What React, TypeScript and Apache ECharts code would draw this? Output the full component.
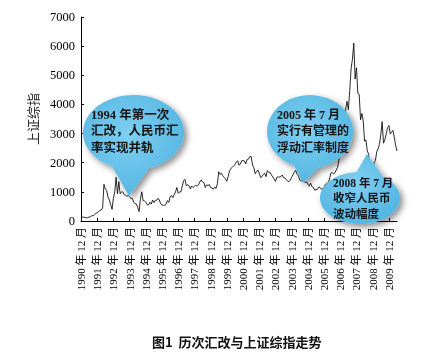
import React, { useEffect, useRef } from "react";
import * as echarts from "echarts";

// Shanghai Composite, approximate monthly values (Dec 1990 – Jun 2010)
const closes1990_1994 = [
  100,
  130, 133, 120, 113, 114, 137, 146, 180, 180, 218, 260, 292,
  313, 364, 380, 445, 1260, 1100, 1050, 820, 720, 560, 400, 780,
  1000, 1500, 930, 1350, 930, 1000, 1000, 900, 880, 850, 880, 833,
  770, 780, 640, 600, 580, 470, 320, 750, 1000, 700, 690, 647,
];
const closes1995_1999 = [
  560, 550, 640, 580, 720, 630, 710, 710, 780, 720, 590, 555,
  537, 537, 570, 700, 640, 830, 880, 800, 900, 1000, 1150, 950,
  1000, 1000, 1200, 1380, 1430, 1200, 1250, 1200, 1100, 1200, 1150, 1194,
  1220, 1200, 1240, 1340, 1410, 1340, 1320, 1150, 1240, 1220, 1250, 1146,
  1130, 1090, 1160, 1120, 1280, 1690, 1600, 1640, 1550, 1500, 1440, 1367,
];
const closes2000_2004 = [
  1530, 1720, 1800, 1840, 1890, 1930, 2020, 2070, 1910, 1960, 2070, 2073,
  2060, 1960, 2110, 2120, 2210, 2218, 1920, 1830, 1620, 1690, 1750, 1646,
  1490, 1520, 1600, 1640, 1520, 1730, 1670, 1670, 1580, 1510, 1440, 1357,
  1500, 1510, 1510, 1520, 1580, 1490, 1480, 1420, 1370, 1350, 1400, 1497,
  1590, 1680, 1740, 1600, 1560, 1400, 1390, 1340, 1400, 1320, 1340, 1266,
];
const closes2005_2010 = [
  1190, 1300, 1180, 1160, 1060, 1080, 1080, 1160, 1155, 1090, 1100, 1161,
  1260, 1300, 1300, 1440, 1640, 1670, 1610, 1650, 1750, 1840, 2100, 2675,
  2790, 2880, 3180, 3840, 4110, 3820, 4470, 5220, 5550, 6100, 4870, 5260,
  4380, 4350, 3470, 3690, 3430, 2740, 2780, 2400, 2290, 1730, 1870, 1820,
  1990, 2080, 2370, 2480, 2630, 2960, 3410, 2670, 2780, 2990, 3200, 3277,
  2990, 3050, 3110, 2870, 2590, 2400,
];

const yTicks = [0, 1000, 2000, 3000, 4000, 5000, 6000, 7000];

const notes = [
  ["1994 年第一次", "汇改，人民币汇", "率实现并轨"],
  ["2005 年 7 月", "实行有管理的", "浮动汇率制度"],
  ["2008 年 7 月", "收窄人民币", "波动幅度"],
];

function bubblePath(
  cx: number, cy: number, rx: number, ry: number,
  a1: number, a2: number, tx: number, ty: number
) {
  const r = Math.PI / 180;
  const p1x = cx + rx * Math.cos(a1 * r), p1y = cy + ry * Math.sin(a1 * r);
  const p2x = cx + rx * Math.cos(a2 * r), p2y = cy + ry * Math.sin(a2 * r);
  return `M${p1x} ${p1y} L${tx} ${ty} L${p2x} ${p2y} A${rx} ${ry} 0 1 0 ${p1x} ${p1y} Z`;
}

echarts.graphic.registerShape(
  "bubbleA",
  echarts.graphic.extendPath(bubblePath(133.5, 132.5, 50.5, 37.5, 115, 72, 129, 196), {})
);
echarts.graphic.registerShape(
  "bubbleB",
  echarts.graphic.extendPath(bubblePath(310, 131.5, 43, 36.5, 112, 78, 303, 183), {})
);
echarts.graphic.registerShape(
  "bubbleC",
  echarts.graphic.extendPath(bubblePath(360, 198, 40, 26, 305, 265, 367, 154), {})
);

export default function App() {
  const ref = useRef<HTMLDivElement>(null);
  useEffect(() => {
    document.body.style.margin = "0";
    const chart = echarts.init(ref.current!, null, { renderer: "svg" });
    const values = [...closes1990_1994, ...closes1995_1999, ...closes2000_2004, ...closes2005_2010];
    const categories = values.map((_, i) => {
      const month = ((11 + i) % 12) + 1;
      const year = 1990 + Math.floor((11 + i) / 12);
      return `${year}-${month}`;
    });
    const fill = {
      type: "radial", x: 0.45, y: 0.4, r: 0.75,
      colorStops: [
        { offset: 0, color: "#7fcff0" },
        { offset: 1, color: "#4ab0df" },
      ],
    };
    const bubbleStyle = {
      fill,
      shadowBlur: 6,
      shadowColor: "rgba(0,0,0,0.45)",
      shadowOffsetX: 3,
      shadowOffsetY: 3,
    };
    const textFont = {
      fill: "#141414",
      fontFamily: "'Liberation Serif', 'Noto Sans CJK SC', serif",
      fontWeight: "bold",
      align: "left",
      verticalAlign: "top",
    };
    chart.setOption({
      animation: false,
      title: {
        text: "图1  历次汇改与上证综指走势",
        left: 147,
        top: 330,
        textStyle: { fontSize: 13, fontWeight: "bold", fontFamily: "'Noto Sans CJK SC', sans-serif", color: "#111" },
      },
      grid: { left: 81, right: 33, top: 17, bottom: 134, containLabel: false, outerBoundsMode: "none" },
      xAxis: {
        type: "category",
        data: categories,
        boundaryGap: false,
        axisLine: { lineStyle: { color: "#000", width: 1 } },
        axisTick: { inside: true, length: 3, interval: 11, lineStyle: { color: "#000" } },
        axisLabel: {
          interval: 11,
          rotate: 90,
          margin: 6,
          fontSize: 11,
          fontFamily: "'Liberation Serif', 'Noto Sans CJK SC', serif",
          color: "#000",
          formatter: (v: string) => `${v.split("-")[0]} 年 12 月`,
        },
        splitLine: { show: false },
      },
      yAxis: {
        type: "value",
        min: yTicks[0],
        max: yTicks[yTicks.length - 1],
        interval: 1000,
        name: "上证综指",
        nameLocation: "middle",
        nameGap: 40,
        nameTextStyle: { fontSize: 13, fontFamily: "'Noto Sans CJK SC', sans-serif", color: "#222" },
        axisLine: { show: true, lineStyle: { color: "#000", width: 1 } },
        axisTick: { show: true, inside: true, length: 3, lineStyle: { color: "#000" } },
        axisLabel: {
          margin: 6,
          fontSize: 12.5,
          fontFamily: "'Liberation Serif', serif",
          color: "#000",
          formatter: (v: number) => String(v),
        },
        splitLine: { show: false },
      },
      series: [
        {
          type: "line",
          data: values,
          symbol: "none",
          lineStyle: { color: "#111", width: 0.9 },
        },
      ],
      graphic: [
        { type: "bubbleA", x: 0, y: 0, z: 100, style: bubbleStyle },
        { type: "bubbleB", x: 0, y: 0, z: 100, style: bubbleStyle },
        { type: "bubbleC", x: 0, y: 0, z: 100, style: bubbleStyle },
        { type: "text", x: 91, y: 106.5, z: 101, style: { ...textFont, text: notes[0].join("\n"), fontSize: 12.5, lineHeight: 16.5 } },
        { type: "text", x: 277, y: 106.5, z: 101, style: { ...textFont, text: notes[1].join("\n"), fontSize: 12, lineHeight: 16.5 } },
        { type: "text", x: 333, y: 175, z: 101, style: { ...textFont, text: notes[2].join("\n"), fontSize: 11.5, lineHeight: 15.5 } },
      ],
    });
    return () => chart.dispose();
  }, []);
  return <div ref={ref} style={{ position: "fixed", left: 0, top: 0, width: 430, height: 355 }} />;
}
